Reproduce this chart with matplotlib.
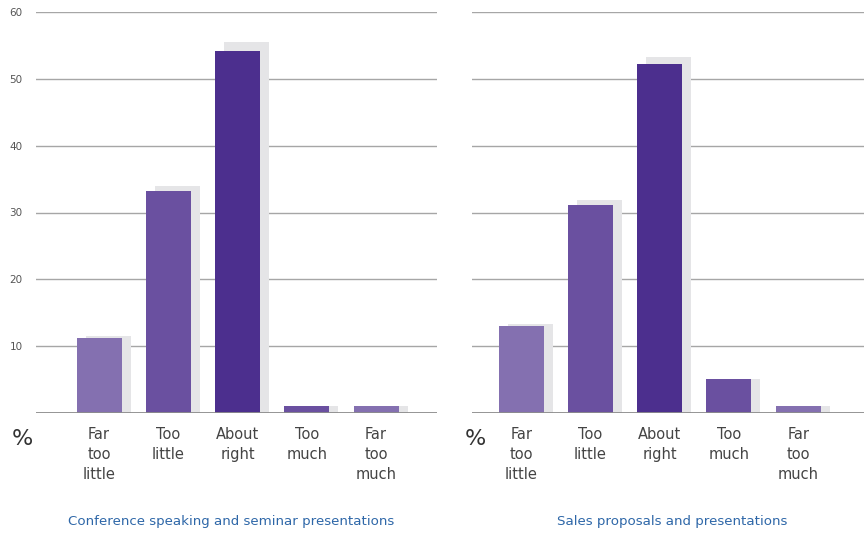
import matplotlib
matplotlib.use("Agg")
import matplotlib.pyplot as plt
from matplotlib.transforms import blended_transform_factory

categories = ["Far\ntoo\nlittle", "Too\nlittle", "About\nright", "Too\nmuch", "Far\ntoo\nmuch"]
conference = [11.2, 33.2, 54.2, 1.0, 1.0]
conference_shadow = [11.5, 34.0, 55.5, 1.0, 1.0]
sales = [13.0, 31.1, 52.2, 5.1, 1.0]
sales_shadow = [13.3, 31.9, 53.3, 5.1, 1.0]
titles = ["Conference speaking and seminar presentations", "Sales proposals and presentations"]
yticks = [10, 20, 30, 40, 50, 60]

bar_colors = ["#8470b0", "#6a50a0", "#4c2f8e", "#6a50a0", "#8470b0"]
shadow_color = "#e5e5e7"
font = "DejaVu Sans"

fig = plt.figure(figsize=(8.64, 5.33), dpi=100)
ax1 = fig.add_axes([36/864, 1-413/533, 401/864, 401/533])
ax2 = fig.add_axes([472/864, 1-413/533, 392/864, 401/533])

panels = [
    (ax1, conference, conference_shadow, (-0.91, 4.88), True, titles[0], 231.5/864, -0.035),
    (ax2, sales, sales_shadow, (-0.71, 4.95), False, titles[1], 672/864, 0.008),
]

x = list(range(len(categories)))
w = 0.65
off = 0.13
for ax, vals, shad, xlim, show_y, title, tx, px in panels:
    ax.set_xlim(*xlim)
    ax.set_ylim(0, 60)
    for y in yticks:
        ax.axhline(y, color="#a6a6a6", lw=1.0, zorder=0)
    ax.axhline(0, color="#8c8c8c", lw=1.3, zorder=3)
    ax.bar([xi + off for xi in x], shad, width=w, color=shadow_color, zorder=1)
    ax.bar(x, vals, width=w, color=bar_colors, zorder=2)
    for s in ax.spines.values():
        s.set_visible(False)
    ax.set_xticks([])
    ax.set_yticks(yticks if show_y else [])
    ax.tick_params(axis="y", length=0, pad=19, labelsize=7.5, labelcolor="#555555")
    for lab in ax.get_yticklabels():
        lab.set_horizontalalignment("left")
        lab.set_family(font)
    trans = blended_transform_factory(ax.transData, ax.transAxes)
    for xi, c in zip(x, categories):
        ax.text(xi, -0.035, c, transform=trans, ha="center", va="top",
                fontsize=10.5, color="#444444", family=font, linespacing=1.42)
    ax.text(px, -0.065, "%", transform=ax.transAxes, ha="center", va="center",
            fontsize=16, color="#333333", family=font)
    fig.text(tx, 1 - 522/533, title, ha="center", va="center",
             fontsize=9.6, color="#2e67a8", family=font)

fig.savefig("out.png", dpi=100)
